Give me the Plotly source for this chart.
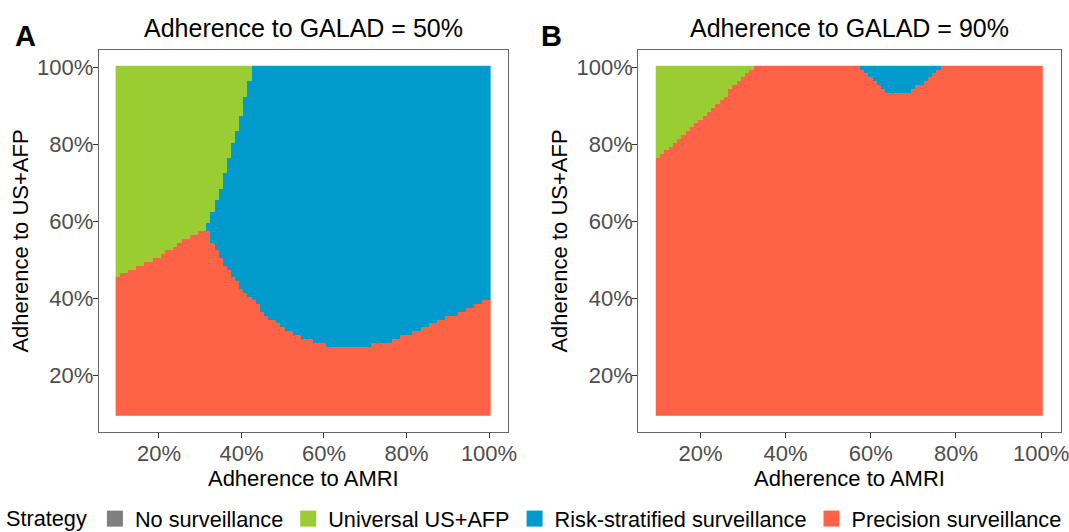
import numpy as np
import plotly.graph_objects as go
from plotly.subplots import make_subplots

# ---------------- data ----------------
# adherence grid (percent), 1% steps
amri_pct = list(range(10, 101))       # x: adherence to AMRI
usafp_pct = list(range(10, 101))      # y: adherence to US+AFP

strategies = ["No surveillance", "Universal US+AFP", "Risk-stratified surveillance", "Precision surveillance"]
strategy_colors = ["#7F7F7F", "#9ACD32", "#009ACD", "#FF6347"]

tick_vals = [0.2, 0.4, 0.6, 0.8, 1.0]
tick_text = ["20%", "40%", "60%", "80%", "100%"]

# Panel A (GALAD adherence = 50%)
# upper edge of "Precision surveillance" region, y as a function of x
a_prec_x = [10, 15.3, 21.5, 26.2, 30.9, 31.6, 32.3, 34.8, 37.9, 41.8, 46.4, 51.9, 59.7, 65.1, 69.0, 75.2, 83.0, 90.8, 100]
a_prec_y = [45.9, 48.2, 51.8, 55.2, 57.8, 58.2, 56.3, 50.9, 45.7, 40.6, 35.4, 31.1, 28.1, 27.2, 27.5, 28.7, 31.5, 35.4, 39.9]
# right edge of "Universal US+AFP" region, x as a function of y
a_univ_y = [59.5, 64.3, 68.1, 72.4, 76.7, 81.1, 85.4, 90.5, 95.7, 100]
a_univ_x = [32.0, 33.6, 34.8, 35.9, 37.1, 38.3, 39.4, 40.6, 41.8, 42.8]

# Panel B (GALAD adherence = 90%)
# lower edge of "Universal US+AFP" region, y as a function of x
b_univ_x = [10, 15.1, 19.9, 24.6, 28.5, 32.1]
b_univ_y = [76.1, 81.8, 86.7, 91.1, 95.9, 100]
# lower edge of "Risk-stratified surveillance" bump, y as a function of x
b_risk_x = [57.3, 58.7, 60.7, 62.2, 64.2, 69.3, 71.7, 74.0, 76.8]
b_risk_y = [100, 98.3, 96.5, 94.8, 93.9, 93.9, 95.6, 97.4, 100]

# ---------------- build grids ----------------
X, Y = np.meshgrid(np.array(amri_pct, float), np.array(usafp_pct, float))

zA = np.full(X.shape, 2)
prec_top = np.interp(X, a_prec_x, a_prec_y)
univ_right = np.interp(Y, a_univ_y, a_univ_x)
zA[X < univ_right] = 1
zA[Y <= prec_top] = 3

zB = np.full(X.shape, 3)
univ_low = np.interp(X, b_univ_x, b_univ_y)
zB[(Y > univ_low) & (X <= b_univ_x[-1])] = 1
risk_low = np.interp(X, b_risk_x, b_risk_y)
zB[(X >= b_risk_x[0]) & (X <= b_risk_x[-1]) & (Y >= risk_low)] = 2

xs = [v / 100 for v in amri_pct]
ys = [v / 100 for v in usafp_pct]

cs = []
for i, c in enumerate(strategy_colors):
    cs.append([i / 4, c])
    cs.append([(i + 1) / 4, c])

fig = make_subplots(rows=1, cols=2)
for col, z in [(1, zA), (2, zB)]:
    fig.add_trace(go.Heatmap(x=xs, y=ys, z=z, zmin=-0.5, zmax=3.5, colorscale=cs,
                             showscale=False, hoverinfo="skip"), row=1, col=col)

for name, c in zip(strategies, strategy_colors):
    fig.add_trace(go.Scatter(x=[None], y=[None], mode="markers", name=name,
                             marker=dict(symbol="square", size=16, color=c),
                             showlegend=True), row=1, col=1)

FONT = "Liberation Sans, Arial, Helvetica, sans-serif"
W, H = 1069, 532
ytop, ybot = 50, 432
dom_y = [1 - ybot / H, 1 - ytop / H]
dom_xA = [98.7 / W, 508 / W]
dom_xB = [638.3 / W, 1060.7 / W]
rng = [0.054, 1.046]

axis_common = dict(range=rng, showgrid=False, zeroline=False, showline=True, mirror=True,
                   linecolor="#666666", linewidth=1, ticks="outside", ticklen=5,
                   tickcolor="#333333", tickwidth=1, tickvals=tick_vals, ticktext=tick_text,
                   automargin=False, ticklabeloverflow="allow",
                   tickfont=dict(family=FONT, size=22, color="#4D4D4D"))

fig.update_xaxes(**axis_common, ticklabelstandoff=-3,
                 title=dict(text="Adherence to AMRI", font=dict(family=FONT, size=22, color="black"), standoff=2))
fig.update_yaxes(**axis_common, ticklabelstandoff=-5,
                 title=dict(text="Adherence to US+AFP", font=dict(family=FONT, size=22, color="black"), standoff=2))
fig.update_layout(
    xaxis=dict(domain=dom_xA), xaxis2=dict(domain=dom_xB),
    yaxis=dict(domain=dom_y), yaxis2=dict(domain=dom_y),
)

fig.add_annotation(text="Adherence to GALAD = 50%", x=(dom_xA[0] + dom_xA[1]) / 2, y=1 - 28 / H,
                   xref="paper", yref="paper", showarrow=False, xanchor="center", yanchor="middle",
                   font=dict(family=FONT, size=25, color="black"))
fig.add_annotation(text="Adherence to GALAD = 90%", x=(dom_xB[0] + dom_xB[1]) / 2, y=1 - 28 / H,
                   xref="paper", yref="paper", showarrow=False, xanchor="center", yanchor="middle",
                   font=dict(family=FONT, size=25, color="black"))
fig.add_annotation(text="<b>A</b>", x=25 / W, y=1 - 36 / H, xref="paper", yref="paper", showarrow=False,
                   xanchor="center", yanchor="middle", font=dict(family=FONT, size=29, color="black"))
fig.add_annotation(text="<b>B</b>", x=551 / W, y=1 - 36 / H, xref="paper", yref="paper", showarrow=False,
                   xanchor="center", yanchor="middle", font=dict(family=FONT, size=29, color="black"))

fig.update_layout(
    width=W, height=H, margin=dict(l=0, r=0, t=0, b=0, autoexpand=False),
    paper_bgcolor="white", plot_bgcolor="white",
    font=dict(family=FONT, color="black"),
    legend=dict(orientation="h", x=4 / W, xanchor="left", y=1 - 519 / H, yanchor="middle",
                xref="container", yref="container",
                title=dict(text="Strategy", side="left", font=dict(family=FONT, size=21.7, color="black")),
                font=dict(family=FONT, size=21.7, color="black"), itemclick=False,
                bgcolor="rgba(0,0,0,0)", borderwidth=0, tracegroupgap=0),
)

fig.write_html("out.html", config={"displayModeBar": False},
               post_script="document.body.style.margin='0';document.body.style.overflow='hidden';")
